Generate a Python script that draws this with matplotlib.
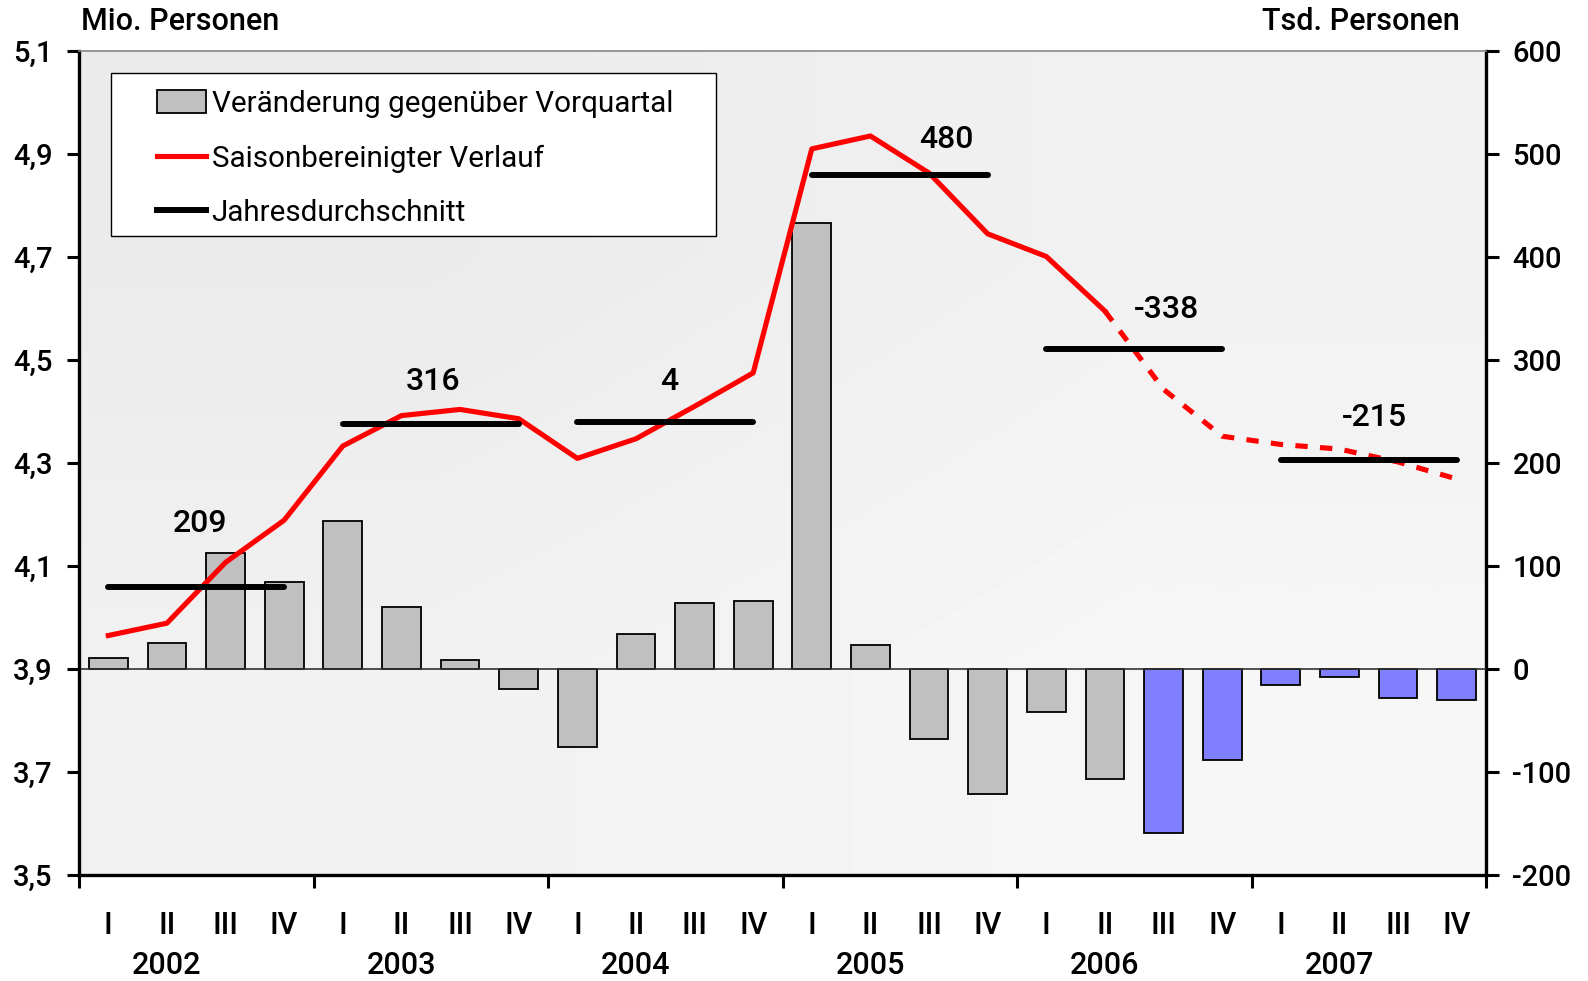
import numpy as np
import matplotlib.pyplot as plt
from matplotlib.patches import Rectangle
from matplotlib.lines import Line2D

plt.rcParams['font.family'] = ['Roboto', 'DejaVu Sans']

# ---- data -------------------------------------------------------------
years = ['2002', '2003', '2004', '2005', '2006', '2007']
quarter_names = ['I', 'II', 'III', 'IV']

# change vs. previous quarter, Tsd. Personen (right axis)
change_tsd = [11, 25, 113, 84, 144, 60, 9, -19, -76, 34, 64, 66,
              433, 23, -68, -121, -42, -107, -159, -88, -16, -8, -28, -30]
first_forecast_bar = 18   # 2006 III onwards drawn in blue

# seasonally adjusted level, Mio. Personen (left axis)
level_mio = [3.965, 3.989, 4.107, 4.189, 4.333, 4.392, 4.404, 4.386,
             4.309, 4.347, 4.410, 4.475, 4.910, 4.935, 4.863, 4.745,
             4.701, 4.595, 4.443, 4.352, 4.336, 4.327, 4.302, 4.269]
last_solid_point = 17     # 2006 II, dotted afterwards

# annual average (Mio.) and its change vs. previous year (Tsd.)
annual_avg = [4.059, 4.375, 4.379, 4.859, 4.521, 4.306]
annual_change = ['209', '316', '4', '480', '-338', '-215']

left_ticks = [3.5, 3.7, 3.9, 4.1, 4.3, 4.5, 4.7, 4.9, 5.1]
left_ticklabels = ['3,5', '3,7', '3,9', '4,1', '4,3', '4,5', '4,7', '4,9', '5,1']
right_ticks = [-200, -100, 0, 100, 200, 300, 400, 500, 600]
right_ticklabels = ['-200', '-100', '0', '100', '200', '300', '400', '500', '600']

# ---- layout -----------------------------------------------------------
label_pos = [(1.56, 4.183), (5.54, 4.459), (9.57, 4.459),
             (14.29, 4.928), (18.05, 4.599), (21.6, 4.388)]
FS = 22
FS_TICK = 21
W, H = 1588, 981
pos = [79 / W, 1 - 875 / H, 1407 / W, 824 / H]

fig = plt.figure(figsize=(W / 100, H / 100), dpi=100)

# gradient background behind the plot area
bg = fig.add_axes(pos, zorder=-1)
grad = np.array([[0.92, 0.945], [0.945, 0.965]])
bg.imshow(grad, cmap='gray', vmin=0, vmax=1, aspect='auto',
          interpolation='bilinear', extent=[0, 1, 0, 1])
bg.axis('off')

ax = fig.add_axes(pos)
ax2 = ax.twinx()
ax2.set_zorder(1)
ax.set_zorder(2)
ax.patch.set_visible(False)
ax2.patch.set_visible(False)

x = np.arange(len(change_tsd))
bar_colors = ['#C0C0C0' if i < first_forecast_bar else '#8080FF' for i in x]
ax2.bar(x, change_tsd, width=0.66, color=bar_colors, edgecolor='black',
        linewidth=1.3, zorder=2)
ax2.axhline(0, color='#333333', lw=1.2, zorder=3)

ax.plot(x[:last_solid_point + 1], level_mio[:last_solid_point + 1],
        color='#FF0000', lw=3.7, zorder=3)
ax.plot(x[last_solid_point:], level_mio[last_solid_point:],
        color='#FF0000', lw=3.7, dashes=(2.4, 2.4), zorder=3)

for k, avg in enumerate(annual_avg):
    ax.plot([4 * k, 4 * k + 3], [avg, avg], color='black', lw=4.3,
            solid_capstyle='round', zorder=4)
    ax.text(label_pos[k][0], label_pos[k][1], annual_change[k], fontsize=23,
            fontweight='medium', ha='center', va='center', zorder=4)

ax.set_xlim(-0.5, len(x) - 0.5)
ax.set_ylim(3.5, 5.1)
ax2.set_ylim(-200, 600)

ax.set_yticks(left_ticks)
ax.set_yticklabels(left_ticklabels, fontweight='medium')
ax2.set_yticks(right_ticks)
ax2.set_yticklabels(right_ticklabels, fontweight='medium')
ax.set_xticks(np.arange(-0.5, len(x), 4))
ax.set_xticklabels([])

ax.tick_params(axis='y', direction='out', length=9, width=2.2, pad=10,
               labelsize=FS_TICK)
ax2.tick_params(axis='y', direction='out', length=9, width=2.2, pad=10,
                labelsize=FS_TICK)
ax.tick_params(axis='x', direction='out', length=9, width=2.2)

for s in ['left', 'bottom']:
    ax.spines[s].set_linewidth(2.4)
ax.spines['top'].set_color('#888888')
ax.spines['top'].set_linewidth(1.2)
ax.spines['right'].set_visible(False)
for s in ['left', 'bottom', 'top']:
    ax2.spines[s].set_visible(False)
ax2.spines['right'].set_linewidth(2.4)

xaxis_tr = ax.get_xaxis_transform()
for i in x:
    ax.annotate(quarter_names[i % 4], xy=(i, 0), xycoords=xaxis_tr,
                xytext=(0, -51), textcoords='offset pixels',
                ha='center', va='center', fontsize=FS, fontweight='medium')
for k, yr in enumerate(years):
    ax.annotate(yr, xy=(4 * k + 1, 0), xycoords=xaxis_tr,
                xytext=(0, -91), textcoords='offset pixels',
                ha='center', va='center', fontsize=FS, fontweight='medium')

fig.text(81 / W, 1 - 21 / H, 'Mio. Personen', fontsize=FS, fontweight='medium',
         ha='left', va='center')
fig.text(1460 / W, 1 - 21 / H, 'Tsd. Personen', fontsize=FS, fontweight='medium',
         ha='right', va='center')

# legend with a plain rectangular box
ax.add_patch(Rectangle((32 / 1407, 639 / 824), 605 / 1407, 163 / 824,
                       transform=ax.transAxes, facecolor='white',
                       edgecolor='black', lw=1.0, zorder=5))
handles = [Rectangle((0, 0), 1, 1, facecolor='#C0C0C0', edgecolor='black', lw=1.3),
           Line2D([], [], color='#FF0000', lw=3.7),
           Line2D([], [], color='black', lw=4.3)]
labels = ['Veränderung gegenüber Vorquartal', 'Saisonbereinigter Verlauf',
          'Jahresdurchschnitt']
leg = ax.legend(handles, labels, loc='upper left',
                bbox_to_anchor=(63 / 1407, 800 / 824), frameon=False,
                fontsize=21.3, borderpad=0, handlelength=1.65, handleheight=0.8,
                handletextpad=0.2, labelspacing=0.9)
leg.set_zorder(6)

fig.savefig('out.png', dpi=100)
